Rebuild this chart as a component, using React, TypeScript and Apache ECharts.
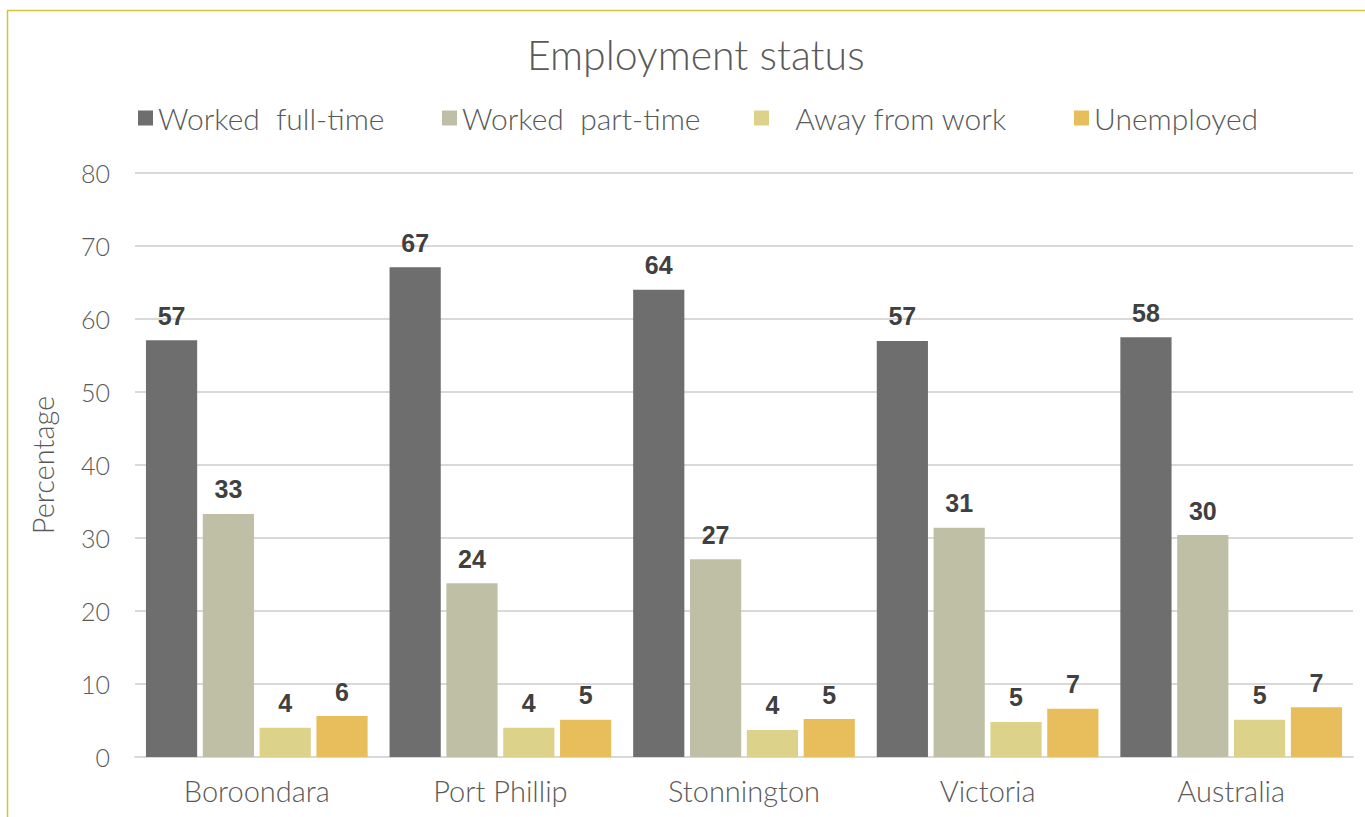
import React, { useEffect, useRef } from "react";
import * as echarts from "echarts";

const categories = ["Boroondara", "Port Phillip", "Stonnington", "Victoria", "Australia"];
const seriesNames = ["Worked  full-time", "Worked  part-time", " Away from work", "Unemployed"];
const fullTime = [57.1, 67.1, 64.0, 57.0, 57.5];
const partTime = [33.3, 23.8, 27.1, 31.4, 30.4];
const awayFromWork = [4.0, 4.0, 3.7, 4.8, 5.1];
const unemployed = [5.6, 5.1, 5.2, 6.6, 6.8];
const colors = ["#6e6e6e", "#bfbfa5", "#dcd28a", "#e8bd5c"];
const yTicks = [0, 10, 20, 30, 40, 50, 60, 70, 80];

const FONT = "Lato, 'DejaVu Sans', sans-serif";
const legendLefts = [133, 437, 749, 1069];
const legendPads = [0, 0, 14, 0];

export default function App() {
  const ref = useRef<HTMLDivElement>(null);
  useEffect(() => {
    document.body.style.margin = "0";
    document.body.style.overflow = "hidden";
    if (!ref.current) return;
    const chart = echarts.init(ref.current, undefined, { renderer: "svg" });
    const data = [fullTime, partTime, awayFromWork, unemployed];
    chart.setOption({
      animation: false,
      backgroundColor: "#ffffff",
      color: colors,
      title: {
        text: "Employment status",
        left: 522,
        top: 29,
        textStyle: { fontFamily: FONT, fontSize: 41, fontWeight: 300, color: "#595959" },
      },
      legend: seriesNames.map((name, i) => ({
        left: legendLefts[i],
        top: 98,
        itemWidth: 15,
        itemHeight: 15,
        itemGap: 0,
        icon: "rect",
        textStyle: { fontFamily: FONT, fontSize: 30, fontWeight: 300, color: "#595959", padding: [0, 0, 0, legendPads[i]] },
        data: [name],
      })),
      grid: { left: 135, right: 12, top: 173, bottom: 60, containLabel: false },
      xAxis: {
        type: "category",
        data: categories,
        axisTick: { show: false },
        axisLine: { lineStyle: { color: "#d9d9d9", width: 2 } },
        axisLabel: { fontFamily: FONT, fontSize: 29, fontWeight: 300, color: "#595959", margin: 19 },
      },
      yAxis: {
        type: "value",
        min: yTicks[0],
        max: yTicks[yTicks.length - 1],
        interval: 10,
        name: "Percentage",
        nameLocation: "middle",
        nameGap: 78,
        nameTextStyle: { fontFamily: FONT, fontSize: 29, fontWeight: 300, color: "#595959" },
        axisLine: { show: false },
        axisTick: { show: false },
        splitLine: { lineStyle: { color: "#d9d9d9", width: 2 } },
        axisLabel: { fontFamily: FONT, fontSize: 25, fontWeight: 300, color: "#595959", margin: 25 },
      },
      graphic: [
        { type: "line", shape: { x1: 7, y1: 10.5, x2: 1365, y2: 10.5 }, style: { stroke: "#d4c33c", lineWidth: 1.5 } },
        { type: "line", shape: { x1: 7.5, y1: 10, x2: 7.5, y2: 817 }, style: { stroke: "#d4c33c", lineWidth: 1.5 } },
      ],
      series: seriesNames.map((name, i) => ({
        name,
        type: "bar",
        data: data[i],
        barGap: "11%",
        barCategoryGap: "9%",
        itemStyle: { color: colors[i] },
        label: {
          show: true,
          position: "top",
          distance: 12,
          formatter: (p: any) => String(Math.round(p.value)),
          fontFamily: "'Liberation Sans', Arial, sans-serif",
          fontWeight: "bold",
          fontSize: 25,
          color: "#404040",
        },
      })),
    });
    return () => chart.dispose();
  }, []);
  return <div ref={ref} style={{ width: 1365, height: 817 }} />;
}
